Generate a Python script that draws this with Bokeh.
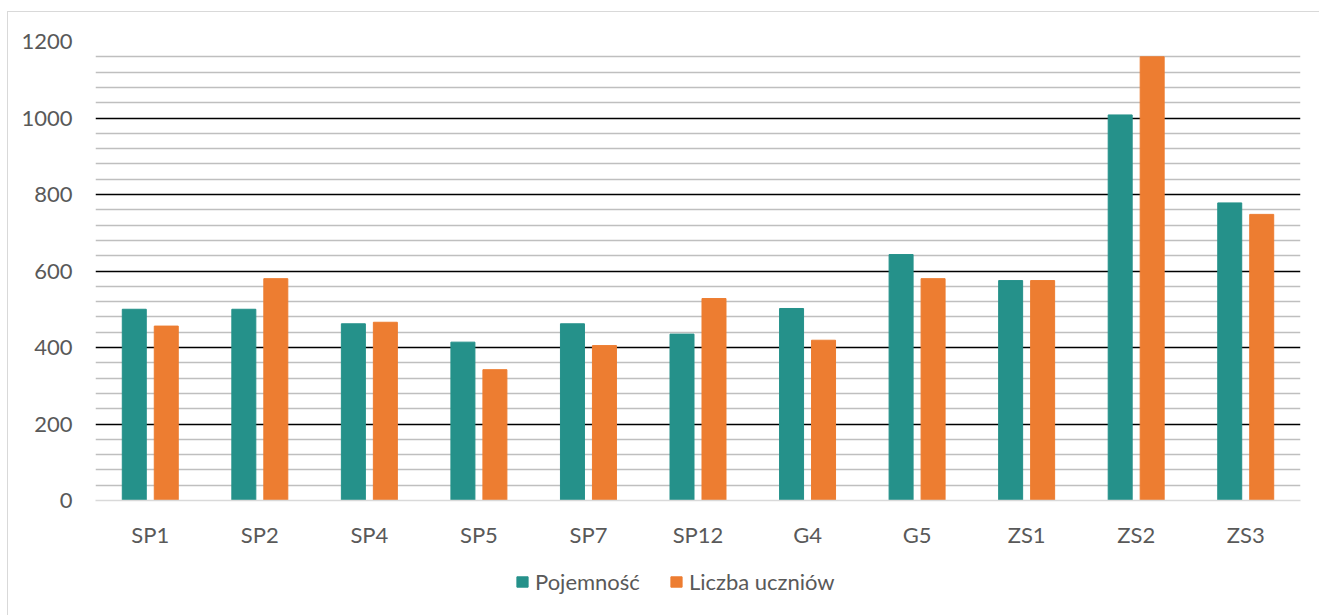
from bokeh.plotting import figure
from bokeh.layouts import column
from bokeh.models import FactorRange, Range1d, FixedTicker, Legend, LegendItem
from bokeh.transform import dodge
from bokeh.embed import file_html
from bokeh.resources import INLINE

# School buildings: capacity vs. enrolled pupils
schools = ["SP1", "SP2", "SP4", "SP5", "SP7", "SP12", "G4", "G5", "ZS1", "ZS2", "ZS3"]
capacity = [500, 500, 462, 414, 462, 435, 502, 643, 575, 1008, 778]
students = [456, 580, 466, 342, 405, 528, 419, 580, 575, 1160, 748]

series_names = ["Pojemność", "Liczba uczniów"]
major_ticks = [0, 200, 400, 600, 800, 1000, 1200]
minor_ticks = [v for v in range(40, 1200, 40) if v % 200 != 0]

TEAL = "#25918A"
ORANGE = "#ED7D31"
TEXT = "#595959"
FONT = "Lato"
FONT_SIZE = "22px"

data = dict(school=schools, capacity=capacity, students=students)

p = figure(
    width=1311, height=538,
    x_range=FactorRange(*schools, range_padding=0),
    y_range=Range1d(0, 1200),
    output_backend="svg", toolbar_location=None,
    min_border_left=87, min_border_right=19,
    min_border_top=29, min_border_bottom=50,
)
p.outline_line_color = None

r1 = p.vbar(x=dodge("school", -0.146, range=p.x_range), top="capacity", width=0.219,
            source=data, color=TEAL, line_color=TEAL)
r2 = p.vbar(x=dodge("school", 0.146, range=p.x_range), top="students", width=0.219,
            source=data, color=ORANGE, line_color=ORANGE)

# gridlines: black majors, grey minors every 40
p.xgrid.grid_line_color = None
p.ygrid.ticker = FixedTicker(ticks=major_ticks[1:], minor_ticks=minor_ticks)
p.ygrid.grid_line_color = "black"
p.ygrid.grid_line_width = 1.6
p.ygrid.minor_grid_line_color = "#BFBFBF"
p.ygrid.minor_grid_line_width = 1.5
p.ygrid.level = "underlay"

p.yaxis.ticker = FixedTicker(ticks=major_ticks)
p.yaxis.axis_line_color = None
p.yaxis.major_tick_line_color = None
p.yaxis.minor_tick_line_color = None
p.yaxis.major_tick_out = 0
p.yaxis.major_label_standoff = 23
p.yaxis.major_label_text_font = FONT
p.yaxis.major_label_text_font_size = FONT_SIZE
p.yaxis.major_label_text_color = TEXT

p.xaxis.axis_line_color = "#D9D9D9"
p.xaxis.axis_line_width = 1.5
p.xaxis.major_tick_line_color = None
p.xaxis.minor_tick_line_color = None
p.xaxis.major_tick_out = 0
p.xaxis.major_label_standoff = 20
p.xaxis.major_label_text_font = FONT
p.xaxis.major_label_text_font_size = FONT_SIZE
p.xaxis.major_label_text_color = TEXT

# legend strip below the chart (its frame lines up with the chart's frame)
lf = figure(
    width=1311, height=65,
    x_range=Range1d(0, 1), y_range=Range1d(0, 1),
    x_axis_location=None, y_axis_location=None,
    output_backend="svg", toolbar_location=None,
    min_border=0,
)
lf.outline_line_color = None
lf.grid.grid_line_color = None
swatch = dict(x=[-10], top=[-10])
k1 = lf.vbar(x="x", top="top", width=1, source=swatch, color=TEAL, line_color=TEAL)
k2 = lf.vbar(x="x", top="top", width=1, source=swatch, color=ORANGE, line_color=ORANGE)

legend = Legend(
    items=[LegendItem(label=series_names[0], renderers=[k1]),
           LegendItem(label=series_names[1], renderers=[k2])],
    orientation="horizontal",
    location=(420, 20),
    glyph_width=14, glyph_height=13,
    label_standoff=6, spacing=29,
    padding=0, margin=0,
    border_line_color=None, background_fill_alpha=0,
    label_text_font=FONT, label_text_font_size=FONT_SIZE,
    label_text_color=TEXT,
)
lf.add_layout(legend, "center")

layout = column(p, lf, margin=(11, 0, 0, 7))
layout.styles = {"border-left": "1px solid #D9D9D9", "border-top": "1px solid #D9D9D9"}

open("out.html", "w").write(file_html(layout, INLINE))
